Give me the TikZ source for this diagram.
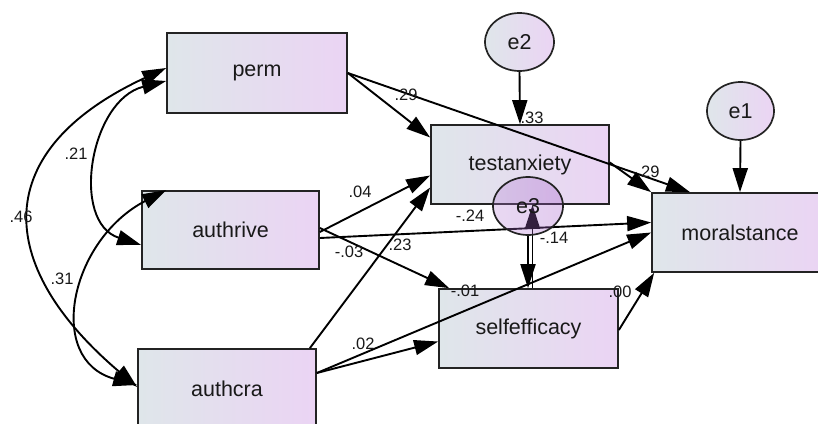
\documentclass[tikz,border=0pt]{standalone}
\usepackage{fontspec}
\setmainfont{Liberation Sans}
\usetikzlibrary{arrows.meta,calc,shapes.geometric}
\definecolor{gL}{RGB}{223,230,234}
\definecolor{gR}{RGB}{235,212,244}
\definecolor{eL}{RGB}{182,128,214}
\definecolor{eR}{RGB}{160,85,200}
\definecolor{edge}{RGB}{35,35,35}
\pgfdeclarelayer{front}
\pgfsetlayers{main,front}
\tikzset{
  varbox/.style={draw=edge, line width=1.7pt, left color=gL, right color=gR,
    minimum width=178pt, minimum height=79pt, inner sep=0pt,
    font=\fontsize{21.5}{24}\selectfont, text=black!90},
  errnode/.style={ellipse, draw=edge, line width=1.7pt, left color=gL, right color=gR,
    minimum width=68pt, minimum height=58pt, inner sep=0pt,
    font=\fontsize{21.5}{24}\selectfont, text=black!90},
  path/.style={line width=1.9pt, -{Triangle[length=24pt,width=15pt]}},
  cov/.style={line width=1.9pt, {Triangle[length=24pt,width=15pt]}-{Triangle[length=24pt,width=15pt]}},
  lab/.style={font=\fontsize{16.5}{18}\selectfont, inner sep=0pt, text=black!90}
}
\begin{document}
\begin{tikzpicture}[x=1pt,y=-1pt]
\useasboundingbox (0,0) rectangle (818,423);
% observed variables
\node[varbox, minimum width=180pt, minimum height=80pt] (perm) at (257,73) {perm};
\node[varbox, minimum width=177pt, minimum height=78pt] (authrive) at (230.5,230) {authrive};
\node[varbox, minimum height=80pt] (authcra) at (227,389) {authcra};
\node[varbox] (testanxiety) at (520,164.5) {testanxiety};
\node[varbox, minimum width=179pt] (selfefficacy) at (528.5,328.5) {selfefficacy};
\node[varbox, minimum width=176pt] (moralstance) at (740,232.5) {moralstance};
% error terms
\node[errnode, minimum width=69pt] (e2) at (519.5,42) {e2};
\node[errnode, minimum width=67pt] (e1) at (740.5,111) {e1};
\begin{pgfonlayer}{front}
\node[errnode, minimum width=70pt, left color=eL, right color=eR, fill opacity=0.3, text opacity=1] (e3) at (528,206) {e3};
\end{pgfonlayer}
% covariances
\draw[cov] ([yshift=5pt]perm.west) .. controls (-10,150) and (-7.5,264) .. ([yshift=2pt]authcra.west);
\draw[cov] ([yshift=-8pt]perm.west) .. controls (90,100) and (70,222) .. ([yshift=-15pt]authrive.west);
\draw[cov] ([xshift=25pt]authrive.north west) .. controls (70,240) and (45,360) .. ([yshift=4pt]authcra.west);
% regression paths
\draw[path] (perm.east) -- ([yshift=27pt]testanxiety.west);
\draw[path] (perm.east) -- ([xshift=-50pt]moralstance.north);
\draw[path] ([yshift=2pt]testanxiety.east) -- (moralstance.north west);
\draw[path] (e2.south) -- (testanxiety.north);
\draw[path] (e1.south) -- (moralstance.north);
\draw[path] ([yshift=-2pt]authrive.east) -- ([yshift=-11pt]testanxiety.west);
\draw[path] ([yshift=-8pt]authrive.east) -- ([yshift=10pt]moralstance.west);
\draw[path] ([yshift=2pt]authrive.east) -- ([xshift=11pt]selfefficacy.north west);
\draw[path] ([xshift=-7pt]authcra.north east) -- ([yshift=-23pt]testanxiety.west);
\draw[path] ([yshift=16pt]authcra.east) -- ([yshift=-13pt]selfefficacy.west);
\draw[path] ([yshift=16pt]authcra.east) -- (moralstance.west);
\draw[path] ([yshift=-1.5pt]selfefficacy.east) -- ([xshift=3pt]moralstance.south west);
\draw[path] (e3.south) -- (e3.south |- selfefficacy.north);
\draw[path] ([xshift=4pt]selfefficacy.north) -- ([xshift=4pt]selfefficacy.north |- testanxiety.south);
% labels
\node[lab] (l1) at (406,95) {.29};
\node[lab] (l2) at (532,118) {.33};
\node[lab] (l3) at (648,172) {.29};
\node[lab] (l4) at (76,154) {.21};
\node[lab] (l5) at (21,217) {.46};
\node[lab] (l6) at (62,279) {.31};
\node[lab] (l7) at (360,192) {.04};
\node[lab] (l8) at (349,252) {-.03};
\node[lab] (l9) at (400,245) {.23};
\node[lab] (l10) at (470,216) {-.24};
\node[lab] (l11) at (554,238) {-.14};
\node[lab] (l12) at (465,291) {-.01};
\node[lab] (l13) at (620,292) {.00};
\node[lab] (l14) at (363,344) {.02};
\end{tikzpicture}
\end{document}
